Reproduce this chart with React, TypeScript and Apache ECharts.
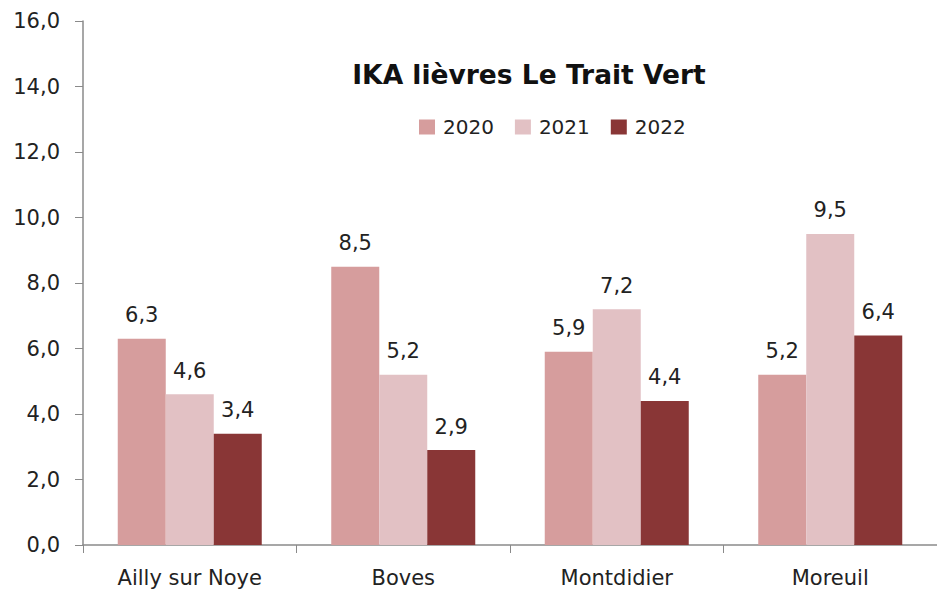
import React, { useEffect, useRef } from "react";
import * as echarts from "echarts";

const categories = ["Ailly sur Noye", "Boves", "Montdidier", "Moreuil"];
const seriesNames = ["2020", "2021", "2022"];
const values2020 = [6.3, 8.5, 5.9, 5.2];
const values2021 = [4.6, 5.2, 7.2, 9.5];
const values2022 = [3.4, 2.9, 4.4, 6.4];
const colors = ["#D69D9D", "#E2C1C4", "#893636"];
const yTicks = { min: 0, max: 16, interval: 2 };

const FONT = "'DejaVu Sans', sans-serif";

export default function App() {
  const ref = useRef<HTMLDivElement>(null);
  useEffect(() => {
    if (!ref.current) return;
    const chart = echarts.init(ref.current, null, { renderer: "svg" });
    const data = [values2020, values2021, values2022];
    chart.setOption({
      animation: false,
      backgroundColor: "#ffffff",
      textStyle: { fontFamily: FONT },
      title: {
        text: "IKA lièvres Le Trait Vert",
        left: 524,
        top: 56,
        textAlign: "center",
        textStyle: { fontFamily: FONT, fontSize: 26.5, fontWeight: "bold", color: "#111" },
      },
      legend: {
        data: seriesNames,
        left: 414,
        top: 112,
        itemWidth: 16,
        itemHeight: 15,
        itemGap: 21,
        icon: "rect",
        textStyle: { fontFamily: FONT, fontSize: 20, color: "#222", padding: [0, 0, 0, 3] },
      },
      grid: { left: 83, top: 21, width: 858, bottom: 46, containLabel: false },
      xAxis: {
        type: "category",
        data: categories,
        axisLine: { lineStyle: { color: "#8a8a8a", width: 1.5 } },
        axisTick: { show: true, length: 8, inside: false, lineStyle: { color: "#8a8a8a" } },
        axisLabel: { fontFamily: FONT, fontSize: 21, color: "#222", margin: 22 },
      },
      yAxis: {
        type: "value",
        min: yTicks.min,
        max: yTicks.max,
        interval: yTicks.interval,
        splitLine: { show: false },
        axisLine: { show: true, lineStyle: { color: "#8a8a8a", width: 1.5 } },
        axisTick: { show: true, length: 8, lineStyle: { color: "#8a8a8a" } },
        axisLabel: {
          fontFamily: FONT,
          fontSize: 21,
          color: "#222",
          margin: 23,
          formatter: (v: number) => v.toFixed(1).replace(".", ","),
        },
      },
      series: seriesNames.map((name, i) => ({
        name,
        type: "bar",
        data: data[i],
        barWidth: 48,
        barGap: "0%",
        itemStyle: { color: colors[i] },
        label: {
          show: true,
          position: "top",
          distance: 13,
          fontFamily: FONT,
          fontSize: 21,
          color: "#222",
          formatter: (p: any) => Number(p.value).toFixed(1).replace(".", ","),
        },
      })),
    });
    return () => chart.dispose();
  }, []);
  return <div ref={ref} style={{ width: 937, height: 591, position: "absolute", left: 0, top: 0 }} />;
}
